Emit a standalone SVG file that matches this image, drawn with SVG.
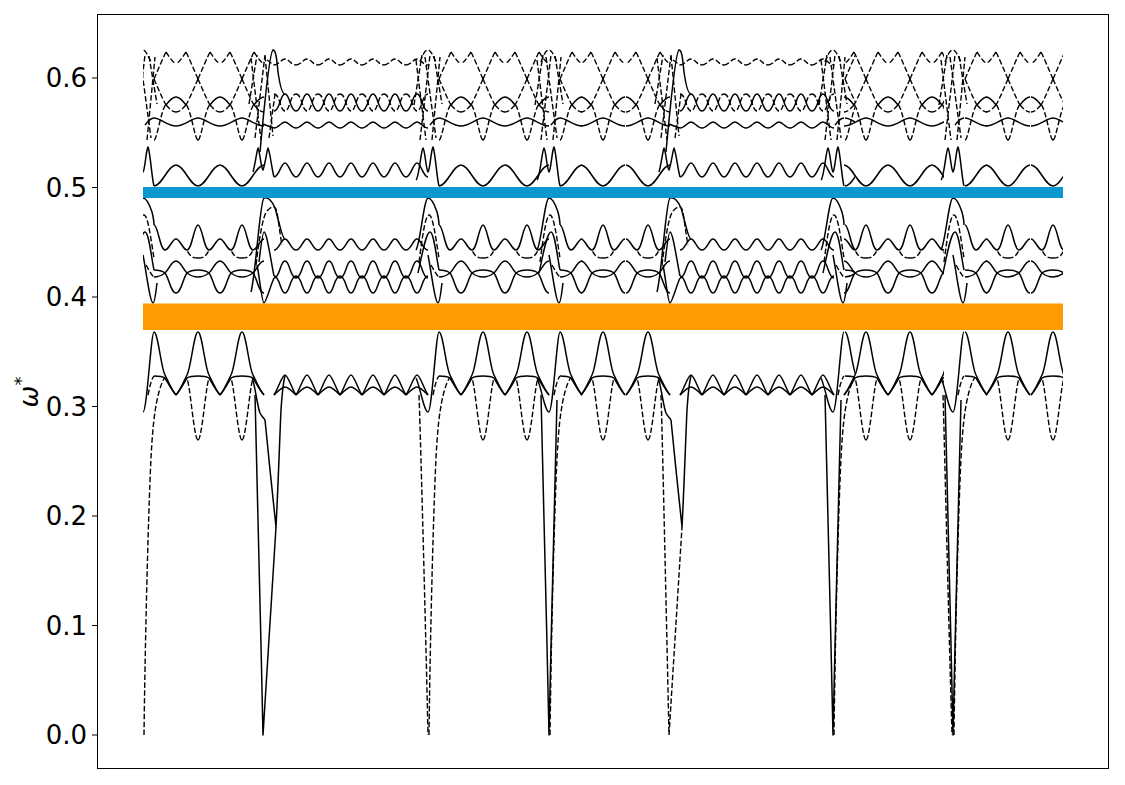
<svg xmlns="http://www.w3.org/2000/svg" width="1125" height="785" viewBox="0 0 1125 785">
<style>
.s{fill:none;stroke:#000;stroke-width:1.5;stroke-linejoin:round}
.d{fill:none;stroke:#000;stroke-width:1.4;stroke-dasharray:5.5 2.4}
.tl{font-family:"DejaVu Sans","Liberation Sans",sans-serif;font-size:26px;fill:#000}
.tk{stroke:#000;stroke-width:1}
</style>
<defs>
<clipPath id="plot"><rect x="143" y="14" width="920" height="755"/></clipPath>
<clipPath id="c845"><rect x="833" y="0" width="22" height="785"/></clipPath>
<clipPath id="c954"><rect x="925" y="0" width="19" height="785"/></clipPath>
<g id="ARc">
 <path class="s" d="M0,332 C4,332 7,368 11,375 C14,381 18,390 22,395"/>
 <path class="s" d="M0,376 C4,376 8,376 11,378 C14,383 18,391 22,395"/>
 <path class="s" d="M0,225 C4,225 6,250 11,250 C15,250 18,239 22,239"/>
 <path class="s" d="M0,277 C4,277 7,276 11,273 C15,270 17,261 22,261"/>
 <path class="s" d="M0,270 C4,270 7,270 11,273 C15,278 17,293 22,293"/>
 <path class="s" d="M0,186 C8,186 14,165 22,165"/>
 <path class="s" d="M0,118 C6,118 14,126 22,126"/>
 <path class="d" d="M12,52 C16,58 19,63 22,63"/>
 <path class="s" d="M12,105 C15,101 18,97 22,97"/>
 <path class="d" d="M12,105 C15,108 18,112 22,112"/>
 <path class="d" d="M0,79 C4,88 8,98 12,105"/>
 <path class="d" d="M0,79 C4,70 8,60 12,52"/>
 <path class="d" d="M0,140 C3,140 7,110 12,104"/>
</g>
<g id="ARd">
 <path class="d" d="M0,440 C4,440 8,383 11,379"/>
 <path class="d" d="M0,258 C5,258 8,257 11,250"/>
</g>
<g id="cA">
 <use href="#ARc"/><use href="#ARc" transform="scale(-1,1)"/>
 <use href="#ARd"/><use href="#ARd" transform="scale(-1,1)"/>
</g>
<g id="cB">
 <path class="s" d="M-11,395 C-7,389 -3,375 0,375 C3,375 7,389 11,395"/>
 <path class="s" d="M-11,395 C-7,391 -3,387 0,387 C3,387 7,391 11,395"/>
 <path class="s" d="M-11,250 C-6,250 -4,239 0,239 C4,239 6,250 11,250"/>
 <path class="s" d="M-11,278 C-5,278 -5,261 0,261 C5,261 5,278 11,278"/>
 <path class="s" d="M-11,276 C-5,276 -5,293 0,293 C5,293 5,276 11,276"/>
 <path class="s" d="M-11,177 C-6,177 -4,163 0,163 C4,163 6,177 11,177"/>
 <path class="s" d="M-11,128 C-6,128 -4,122 0,122 C4,122 6,128 11,128"/>
 <path class="s" d="M-11,111 C-5,111 -5,94 0,94 C5,94 5,111 11,111"/>
 <path class="d" d="M-11,94 C-5,94 -5,111 0,111 C5,111 5,94 11,94"/>
 <path class="d" d="M-11,65 C-6,65 -4,59 0,59 C4,59 6,65 11,65"/>
</g>
<g id="tT">
 <path class="s" d="M-12,378 C-8,386 -4,412 0,412 C4,412 8,332 11,332"/>
 <path class="d" d="M5,395 C7,385 9,378 11,376"/>
 <path class="d" d="M1,735 C2,650 5,520 8,458 C9,440 10,425 12,412 C14,398 17,385 22,377"/>
 <path class="s" d="M-12,250 C-8,245 -4,198 0,198 C4,198 7,206 9,212 C10,216 11,222 11,225"/>
 <path class="d" d="M-9,262 C-6,240 -3,215 1,215 C5,215 8,240 11,258"/>
 <path class="s" d="M-10,273 C-6,255 -2,232 2,232 C6,232 9,262 11,270"/>
 <path class="s" d="M0,255 C3,270 7,303 10,303 C12,303 13,290 14,283"/>
 <path class="d" d="M3,265 C6,270 9,276 11,277"/>
 <path class="s" d="M-12,180 C-9,178 -7,150 -5,148 C-3,150 -2,170 0,172 C2,170 3,150 5,147 C7,150 9,180 11,186"/>
 <path class="s" d="M2,125 C5,121 8,118 11,118"/>
 <path class="d" d="M-12,60 L-2,140"/>
 <path class="d" d="M-8,140 L2,55"/>
 <path class="d" d="M-3,57 L8,138"/>
 <path class="d" d="M4,140 L12,57"/>
 <path class="d" d="M-14,105 L-6,55"/>
 <path class="d" d="M6,56 L14,104"/>
 <path class="d" d="M-8,62 C-5,54 -3,50 0,50 C3,50 5,56 8,62"/>
</g>
<g id="tS">
 <path class="s" d="M-11,377 C-8,385 -6,405 -3,413 C-1,417 1,418 2,420"/>
 <path class="s" d="M2,420 C5,450 10,500 13,527 C15,490 17,430 18,410 C19,395 20,383 22,376"/>
 <path class="s" d="M-12,292 C-7,272 -3,200 1,198 C5,197 9,201 12,208 C15,217 19,239 22,239"/>
 <path class="d" d="M-7,265 C-4,240 0,215 4,211 C8,207 11,205 13,209 C15,215 17,235 19,245"/>
 <path class="s" d="M-4,262 C-2,245 0,232 1,232 C4,232 8,262 11,276"/>
 <path class="s" d="M-6,265 C-3,280 -1,303 1,303 C3,303 8,284 11,278"/>
 <path class="s" d="M-3,152 C0,120 6,52 10,50 C13,49 14,62 15,72 C17,86 19,94 22,94"/>
 <path class="s" d="M-10,172 C-8,165 -6,150 -5,148 C-3,152 -2,168 0,170 C2,165 4,150 5,148 C7,152 9,170 11,177"/>
 <path class="s" d="M0,124 C4,126 8,127 11,128"/>
 <path class="d" d="M-12,58 L-2,140"/>
 <path class="d" d="M-8,138 L2,55"/>
 <path class="d" d="M2,56 L10,136"/>
 <path class="d" d="M6,138 L12,94"/>
 <path class="d" d="M-14,104 L-6,55"/>
 <path class="d" d="M4,60 C7,62 9,64 11,65"/>
</g>
</defs>

<rect width="1125" height="785" fill="#fff"/>

<g id="curves" clip-path="url(#plot)">
 <g id="segment-1">
  <use href="#tT" x="143"/>
  <use href="#ARc" x="154"/>
  <use href="#cA" x="198"/>
  <use href="#cA" x="242"/>
 </g>
 <g id="transition-263">
  <use href="#tS" x="263"/>
  <path class="s" d="M255,395 C256,420 260,600 263,735 L276,527"/>
 </g>
 <g id="segment-2">
  <use href="#cB" x="285"/><use href="#cB" x="307"/><use href="#cB" x="329"/><use href="#cB" x="351"/>
  <use href="#cB" x="373"/><use href="#cB" x="395"/><use href="#cB" x="417"/>
 </g>
 <g id="transition-428">
  <use href="#tT" x="428"/>
  <path class="d" d="M419,395 C420,420 425,600 428,735"/>
 </g>
 <g id="segment-3">
  <use href="#ARc" x="439"/>
  <use href="#cA" x="483"/>
  <use href="#cA" x="527"/>
 </g>
 <g id="transition-549">
  <use href="#tT" x="549"/>
  <path class="s" d="M541,395 C542,420 546,600 549,735 C552,600 556,430 557,400"/>
 </g>
 <g id="segment-4">
  <use href="#ARc" x="560"/>
  <use href="#cA" x="603"/>
  <use href="#cA" x="648"/>
 </g>
 <g id="transition-669">
  <use href="#tS" x="669"/>
  <path class="d" d="M661,395 C662,420 666,600 669,735 L682,527"/>
 </g>
 <g id="segment-5">
  <use href="#cB" x="691"/><use href="#cB" x="713"/><use href="#cB" x="735"/><use href="#cB" x="757"/>
  <use href="#cB" x="779"/><use href="#cB" x="801"/><use href="#cB" x="823"/>
 </g>
 <g id="transition-833">
  <use href="#tT" x="833"/>
  <path class="s" d="M825,395 C826,420 830,600 833,735 C836,600 840,430 841,400"/>
 </g>
 <g id="segment-6">
  <g clip-path="url(#c845)"><use href="#ARc" x="845"/></g>
  <use href="#cA" x="866"/>
  <use href="#cA" x="910"/>
  <g clip-path="url(#c954)"><use href="#cA" x="954"/></g>
 </g>
 <g id="transition-953">
  <use href="#tT" x="953"/>
  <path class="s" d="M945,395 C946,420 950,600 953,735 C956,600 960,430 961,400"/>
  <path class="d" d="M943,395 C944,420 948,600 952,735"/>
 </g>
 <g id="segment-7">
  <use href="#ARc" x="965"/>
  <use href="#cA" x="1008"/>
  <use href="#cA" x="1053"/>
 </g>
</g>

<g id="bands">
 <rect id="blue-band" x="143" y="187" width="920" height="11" fill="#0b98cf"/>
 <rect id="orange-band" x="143" y="303.5" width="920" height="26.5" fill="#fe9a02"/>
</g>

<g id="axes">
 <rect x="97.5" y="14.5" width="1011" height="754" fill="none" stroke="#000" stroke-width="1"/>
 <line class="tk" x1="92" y1="735" x2="97" y2="735"/>
 <line class="tk" x1="92" y1="625.5" x2="97" y2="625.5"/>
 <line class="tk" x1="92" y1="516" x2="97" y2="516"/>
 <line class="tk" x1="92" y1="406.5" x2="97" y2="406.5"/>
 <line class="tk" x1="92" y1="297" x2="97" y2="297"/>
 <line class="tk" x1="92" y1="187.5" x2="97" y2="187.5"/>
 <line class="tk" x1="92" y1="78" x2="97" y2="78"/>
 <g class="tl" text-anchor="end">
  <text x="87" y="744">0.0</text>
  <text x="87" y="634.5">0.1</text>
  <text x="87" y="525">0.2</text>
  <text x="87" y="415.5">0.3</text>
  <text x="87" y="306">0.4</text>
  <text x="87" y="196.5">0.5</text>
  <text x="87" y="87">0.6</text>
 </g>
 <text class="tl" transform="translate(38,392) rotate(-90)" text-anchor="middle"><tspan font-style="italic">ω</tspan><tspan dy="-11" font-size="18">*</tspan></text>
</g>
</svg>
